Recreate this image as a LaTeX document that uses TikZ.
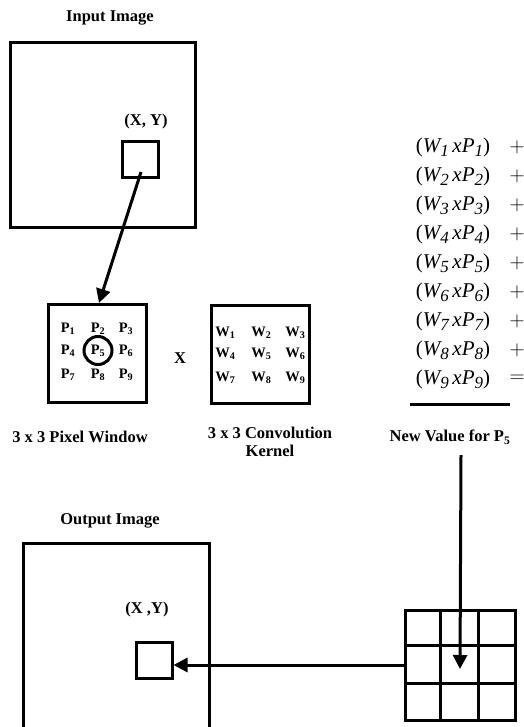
\documentclass[tikz,border=0pt]{standalone}
\usepackage{fontspec}
\setmainfont{Liberation Serif}
\usetikzlibrary{arrows.meta,calc}
\newcommand{\wsub}[1]{\raisebox{-0.45ex}{\fontsize{17}{17}\selectfont#1}}
\newcommand{\term}[1]{\textup{(}W\wsub{#1}\,xP\wsub{#1}\textup{)}}
\begin{document}
\begin{tikzpicture}[x=1pt,y=-1pt,
  frame/.style={draw, line width=3pt, inner sep=0pt},
  lbl/.style={font=\fontsize{16.5}{18}\selectfont\bfseries, align=center},
  cell/.style={font=\fontsize{14.5}{16}\selectfont\bfseries, inner sep=0pt},
  eqn/.style={font=\fontsize{21}{24}\selectfont\itshape, inner sep=0pt},
  op/.style={font=\fontsize{20}{24}\selectfont, inner sep=0pt},
  arr/.style={line width=3pt, -{Triangle[length=14pt,width=14pt]}}]
\useasboundingbox (0,0) rectangle (523,727);
% input image and the picked pixel
\node[lbl] (intitle) at (110,18) {Input Image};
\node[frame, minimum width=185pt, minimum height=185pt] (inimg) at (102.5,135) {};
\node[frame, minimum size=36pt] (insq) at (140,160) {};
\node[lbl] (inxy) at (146,122) {(X, Y)};
\coordinate (pick) at (141,172);
% pixel window and kernel
\node[frame, minimum width=98pt, minimum height=98pt] (pixwin) at (97,353.5) {};
\foreach \i/\dx/\dy in {1/-29/-25, 2/1/-25, 3/29/-25, 4/-29/-3, 5/1/-3, 6/29/-3, 7/-29/21, 8/1/21, 9/29/21}
  \node[cell] (p\i) at ($(pixwin.center)+(\dx,\dy)$) {P\textsubscript{\i}};
\node[frame, circle, minimum size=28pt] (pfive) at (p5) {};
\node[lbl] (times) at (180,358) {X};
\node[frame, minimum width=98pt, minimum height=98pt] (kernel) at (260.5,354.5) {};
\foreach \i/\dx/\dy in {1/-35/-22, 2/1/-22, 3/35/-22, 4/-35/-1, 5/1/-1, 6/35/-1, 7/-35/23, 8/1/23, 9/35/23}
  \node[cell] (w\i) at ($(kernel.center)+(\dx,\dy)$) {W\textsubscript{\i}};
\node[lbl] (pixcap) at (80,437) {3 x 3 Pixel Window};
\node[lbl] (kercap) at (270,442) {3 x 3 Convolution\\Kernel};
\draw[arr] (pick) -- ([xshift=2pt]pixwin.north);
% weighted sum
\foreach \i/\o in {1/+, 2/+, 3/+, 4/+, 5/+, 6/+, 7/+, 8/+, 9/=} {
  \node[eqn] (t\i) at (453,{147+29*(\i-1)}) {\term{\i}};
  \node[op] (o\i) at (517,{147+29*(\i-1)}) {$\o$};
}
\draw[line width=3pt] (410,404) -- (510,404);
\node[lbl] (newval) at (450,437) {New Value for P\textsubscript{5}};
% output image
\node[lbl] (outtitle) at (110,521) {Output Image};
\draw[line width=3pt] (23,727) -- (23,543) -- (209,543) -- (209,727);
\node[frame, minimum size=36pt] (outsq) at (154,660) {};
\node[lbl] (outxy) at (147,610) {(X ,Y)};
\node[frame, minimum size=110pt] (newgrid) at (460,665) {};
\foreach \k in {1,2} {
  \draw[line width=3pt] ($(newgrid.north west)+(37.3*\k,0)$) -- ($(newgrid.south west)+(37.3*\k,0)$);
  \draw[line width=3pt] ($(newgrid.north west)+(0,37.3*\k)$) -- ($(newgrid.north east)+(0,37.3*\k)$);
}
\coordinate (drop) at (461,455);
\draw[arr] (drop) -- ([yshift=-4pt]newgrid.center);
\draw[arr] (newgrid.west) -- (newgrid.west -| outsq.east);
\end{tikzpicture}
\end{document}
